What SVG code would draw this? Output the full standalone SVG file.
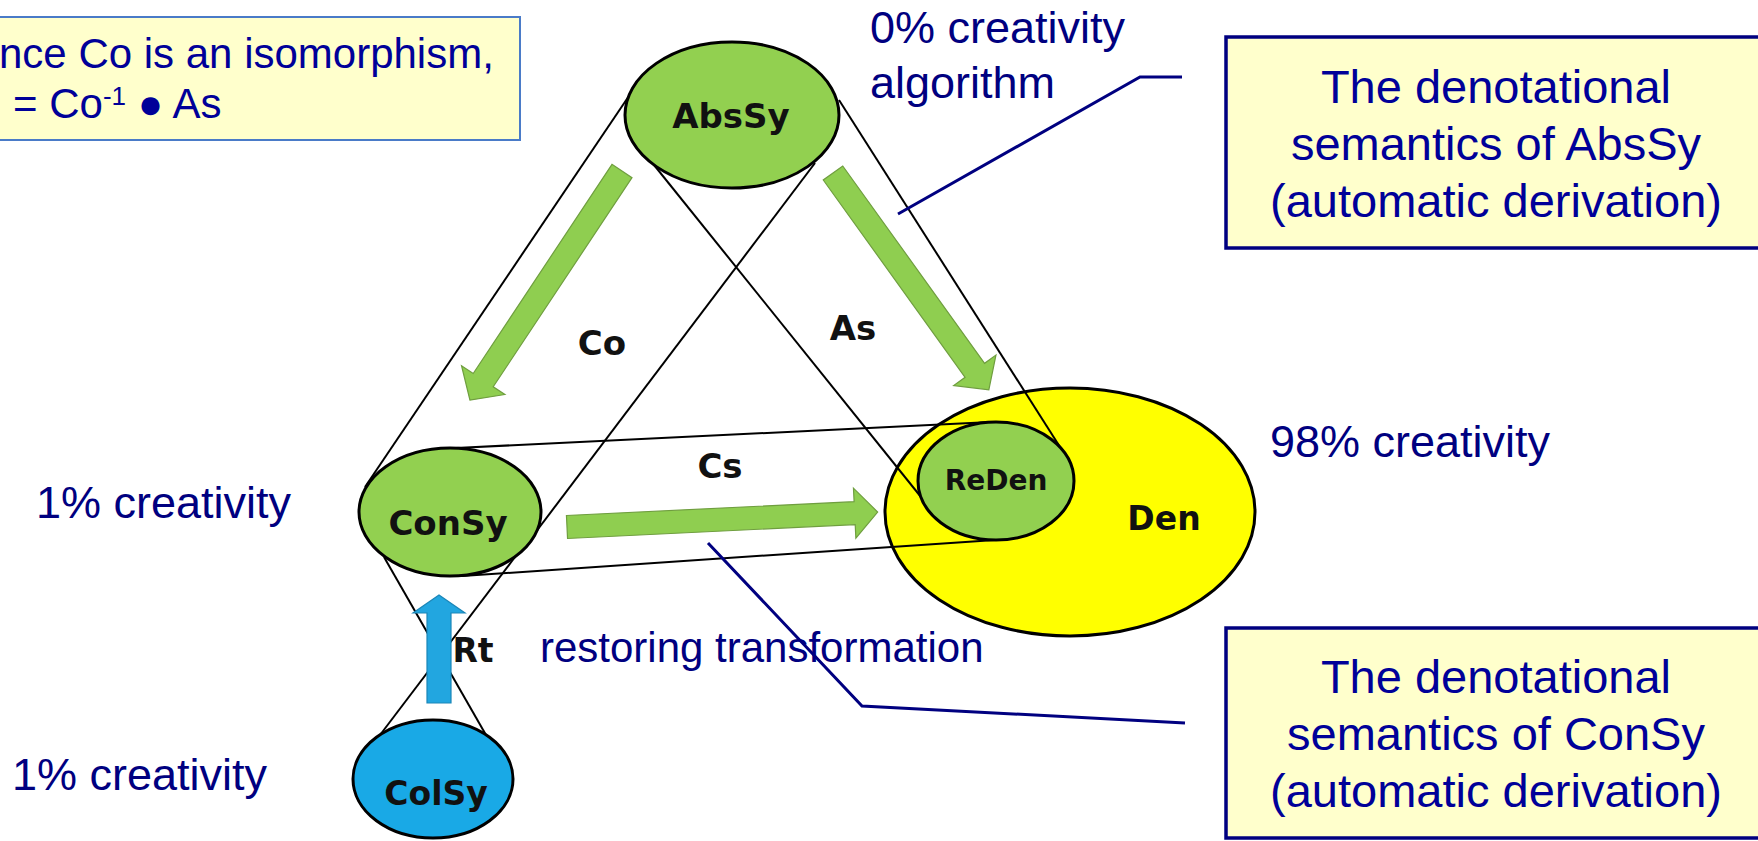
<svg xmlns="http://www.w3.org/2000/svg" width="1758" height="841" viewBox="0 0 1758 841">
<style>
.lbl{font-family:"Liberation Sans",Arial,sans-serif;fill:#000080;font-size:45px}
.lbl.small{font-size:42px}
.bt{font-family:"Liberation Sans",Arial,sans-serif;fill:#000099;font-size:47px;text-anchor:middle}
.node{stroke:#000;stroke-width:3}
.green{fill:#92D050}
.nt{font-family:"DejaVu Sans",Verdana,sans-serif;font-weight:bold;fill:#111;text-anchor:middle}
.band{stroke:#000;stroke-width:2;fill:none}
.garrow{fill:#8FCE50;stroke:#6F9E3F;stroke-width:1.2}
.barrow{fill:#22A6E0;stroke:#1A86B8;stroke-width:1.2}
.leader{stroke:#000080;stroke-width:3;fill:none}
.note{fill:#FFFFCC;stroke:#000080;stroke-width:3.5}
</style>
<rect x="0" y="0" width="1758" height="841" fill="#fff"/>

<g id="Den">
<ellipse cx="1070" cy="512" rx="185" ry="124" fill="#FFFF00" class="node"/>
</g>

<g id="connectors">
<line class="band" x1="633" y1="90" x2="365" y2="487"/>
<line class="band" x1="815" y1="163" x2="529" y2="541"/>
<line class="band" x1="839" y1="100" x2="1060" y2="447"/>
<line class="band" x1="646" y1="155" x2="921" y2="497"/>
<line class="band" x1="456" y1="448" x2="991" y2="422" stroke-width="2.5"/>
<line class="band" x1="462" y1="576" x2="995" y2="540" stroke-width="2.5"/>
<line class="band" x1="384" y1="557" x2="486" y2="735"/>
<line class="band" x1="515" y1="557" x2="380" y2="735"/>
<polyline class="leader" points="1182,77 1140,77 898,214"/>
<polyline class="leader" points="1185,723 862,706 708,543"/>
</g>

<g id="AbsSy">
<ellipse cx="732" cy="115" rx="107" ry="73" class="node green"/>
<text class="nt" x="731" y="128" font-size="34">AbsSy</text>
</g>
<g id="ConSy">
<ellipse cx="450" cy="512" rx="91" ry="64" class="node green"/>
<text class="nt" x="448" y="535" font-size="34">ConSy</text>
</g>
<g id="ReDen">
<ellipse cx="996" cy="481" rx="78" ry="59" class="node green"/>
<text class="nt" x="996" y="490" font-size="28">ReDen</text>
</g>
<g id="ColSy">
<ellipse cx="433" cy="779" rx="80" ry="59" class="node" fill="#19A9E6"/>
<text class="nt" x="436" y="805" font-size="33">ColSy</text>
</g>
<g id="DenLabel">
<text class="nt" x="1164" y="530" font-size="33">Den</text>
</g>

<g id="arrows">
<polygon class="garrow" transform="translate(622,171) rotate(123.57)" points="0,-12 251,-12 251,-26 275,0 251,26 251,12 0,12"/>
<polygon class="garrow" transform="translate(833,173) rotate(54.29)" points="0,-12 243,-12 243,-26 267,0 243,26 243,12 0,12"/>
<polygon class="garrow" transform="translate(567,527) rotate(-2.76)" points="0,-11.5 288,-11.5 288,-25 311,0 288,25 288,11.5 0,11.5"/>
<polygon class="barrow" transform="translate(439,703) rotate(-90)" points="0,-12 90,-12 90,-26 108,0 90,26 90,12 0,12"/>
</g>

<g id="edge-labels">
<text class="nt" x="602" y="355" font-size="34">Co</text>
<text class="nt" x="853" y="340" font-size="34">As</text>
<text class="nt" x="720" y="478" font-size="34">Cs</text>
<text class="nt" x="473" y="662" font-size="33" text-anchor="start">Rt</text>
<text class="lbl small" x="540" y="662">restoring transformation</text>
</g>

<g id="creativity-labels">
<text class="lbl" x="870" y="43">0% creativity</text>
<text class="lbl" x="870" y="98">algorithm</text>
<text class="lbl" x="1270" y="457">98% creativity</text>
<text class="lbl" x="36" y="518">1% creativity</text>
<text class="lbl" x="12" y="790">1% creativity</text>
</g>

<g id="note-iso">
<rect x="-5" y="17" width="525" height="123" fill="#FFFFCC" stroke="#4A7BC8" stroke-width="2"/>
<text x="-1" y="68" font-family="Liberation Sans, Arial, sans-serif" font-size="42" fill="#000099">nce Co is an isomorphism,</text>
<text x="13" y="118" font-family="Liberation Sans, Arial, sans-serif" font-size="42" fill="#000099">= Co<tspan font-size="26" dy="-13">-1</tspan><tspan dy="13"> ● As</tspan></text>
</g>

<g id="note-absSy">
<rect class="note" x="1226" y="37" width="545" height="211"/>
<text class="bt" x="1496" y="103">The denotational</text>
<text class="bt" x="1496" y="160">semantics of AbsSy</text>
<text class="bt" x="1496" y="217">(automatic derivation)</text>
</g>

<g id="note-conSy">
<rect class="note" x="1226" y="628" width="545" height="210"/>
<text class="bt" x="1496" y="693">The denotational</text>
<text class="bt" x="1496" y="750">semantics of ConSy</text>
<text class="bt" x="1496" y="807">(automatic derivation)</text>
</g>
</svg>
